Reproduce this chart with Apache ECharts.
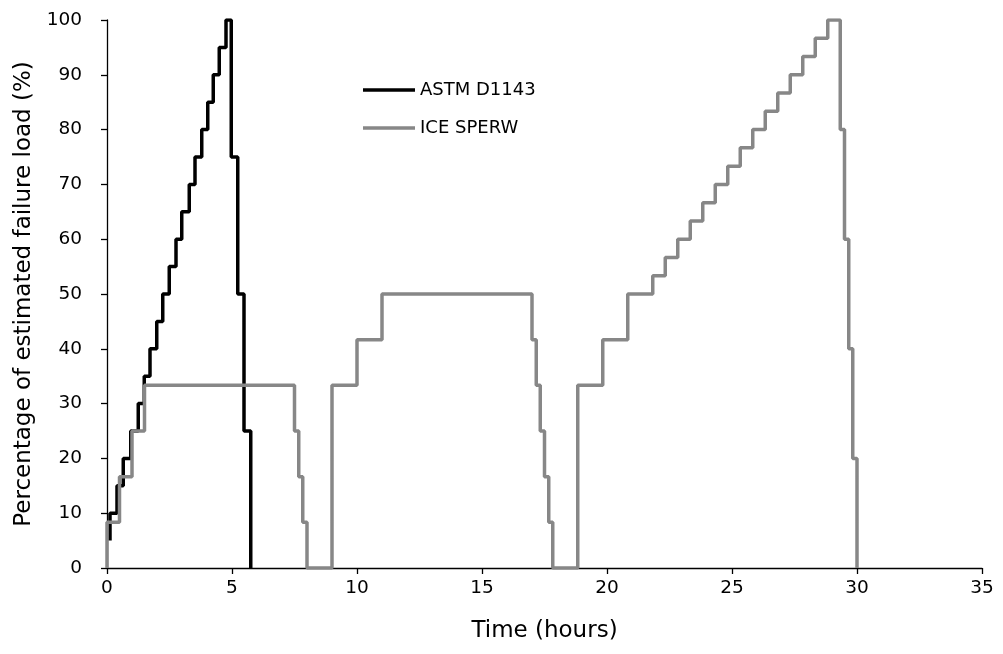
<!DOCTYPE html>
<html>
<head>
<meta charset="utf-8">
<script src="https://cdn.jsdelivr.net/npm/echarts@6/dist/echarts.min.js"></script>
<style>
html,body{margin:0;padding:0;background:#fff;}
#chart{width:1003px;height:654px;}
</style>
</head>
<body>
<div id="chart"></div>
<script>
// ASTM D1143: time (hours) at which the load changes, and the new load (%)
var astmTime = [0.12, 0.12, 0.4, 0.65, 0.95, 1.25, 1.49, 1.72, 1.99, 2.23, 2.49, 2.76, 2.99, 3.29, 3.52, 3.79, 4.03, 4.25, 4.49, 4.76, 4.97, 5.23, 5.48, 5.75];
var astmLoad = [5, 10, 15, 20, 25, 30, 35, 40, 45, 50, 55, 60, 65, 70, 75, 80, 85, 90, 95, 100, 75, 50, 25, 0];

// ICE SPERW: time (hours) at which the load changes, and the new load (%)
var iceTime = [0, 0, 0.5, 1.0, 1.5, 7.5, 7.67, 7.83, 8.0, 9.0, 10.0, 11.0, 17.0, 17.17, 17.33, 17.5, 17.67, 17.83, 18.83, 19.83, 20.83, 21.83, 22.33, 22.83, 23.33, 23.83, 24.33, 24.83, 25.33, 25.83, 26.33, 26.83, 27.33, 27.83, 28.33, 28.83, 29.33, 29.5, 29.67, 29.83, 30.0];
var iceLoad = [0, 8.33, 16.67, 25, 33.33, 25, 16.67, 8.33, 0, 33.33, 41.67, 50, 41.67, 33.33, 25, 16.67, 8.33, 0, 33.33, 41.67, 50, 53.33, 56.67, 60, 63.33, 66.67, 70, 73.33, 76.67, 80, 83.33, 86.67, 90, 93.33, 96.67, 100, 80, 60, 40, 20, 0];

var seriesNames = ['ASTM D1143', 'ICE SPERW'];
var xTitle = 'Time (hours)';
var yTitle = 'Percentage of estimated failure load (%)';

function pairs(t, v) { return t.map(function (x, i) { return [x, v[i]]; }); }

var FONT = '"DejaVu Sans", Verdana, sans-serif';
var chart = echarts.init(document.getElementById('chart'));
chart.setOption({
  animation: false,
  backgroundColor: '#ffffff',
  grid: { left: 107, right: 21, top: 20, bottom: 86, containLabel: false },
  legend: {
    orient: 'vertical', left: 358, top: 76, itemWidth: 52, itemHeight: 3.5, itemGap: 20,
    icon: 'rect',
    textStyle: { fontFamily: FONT, fontSize: 18, color: '#000', padding: [0, 0, 0, 0] },
    data: seriesNames
  },
  xAxis: {
    type: 'value', min: 0, max: 35, interval: 5,
    name: xTitle, nameLocation: 'middle', nameGap: 52,
    nameTextStyle: { fontFamily: FONT, fontSize: 23, color: '#000' },
    axisLine: { lineStyle: { color: '#000', width: 1.3 } },
    axisTick: { show: true, inside: false, length: 6, lineStyle: { color: '#000', width: 1.3 } },
    axisLabel: { fontFamily: FONT, fontSize: 18.5, color: '#000', margin: 11 },
    splitLine: { show: false }
  },
  yAxis: {
    type: 'value', min: 0, max: 100, interval: 10,
    name: yTitle, nameLocation: 'middle', nameGap: 71,
    nameTextStyle: { fontFamily: FONT, fontSize: 23, color: '#000' },
    axisLine: { show: true, lineStyle: { color: '#000', width: 1.3 } },
    axisTick: { show: true, inside: false, length: 6, lineStyle: { color: '#000', width: 1.3 } },
    axisLabel: { fontFamily: FONT, fontSize: 18.5, color: '#000', margin: 25 },
    splitLine: { show: false }
  },
  series: [
    {
      name: seriesNames[0], type: 'line', step: 'end', symbol: 'none',
      data: pairs(astmTime, astmLoad),
      lineStyle: { color: '#000000', width: 3.5 }, itemStyle: { color: '#000000' }
    },
    {
      name: seriesNames[1], type: 'line', step: 'end', symbol: 'none',
      data: pairs(iceTime, iceLoad),
      lineStyle: { color: '#878787', width: 3.5 }, itemStyle: { color: '#878787' }
    }
  ]
});
</script>
</body>
</html>
